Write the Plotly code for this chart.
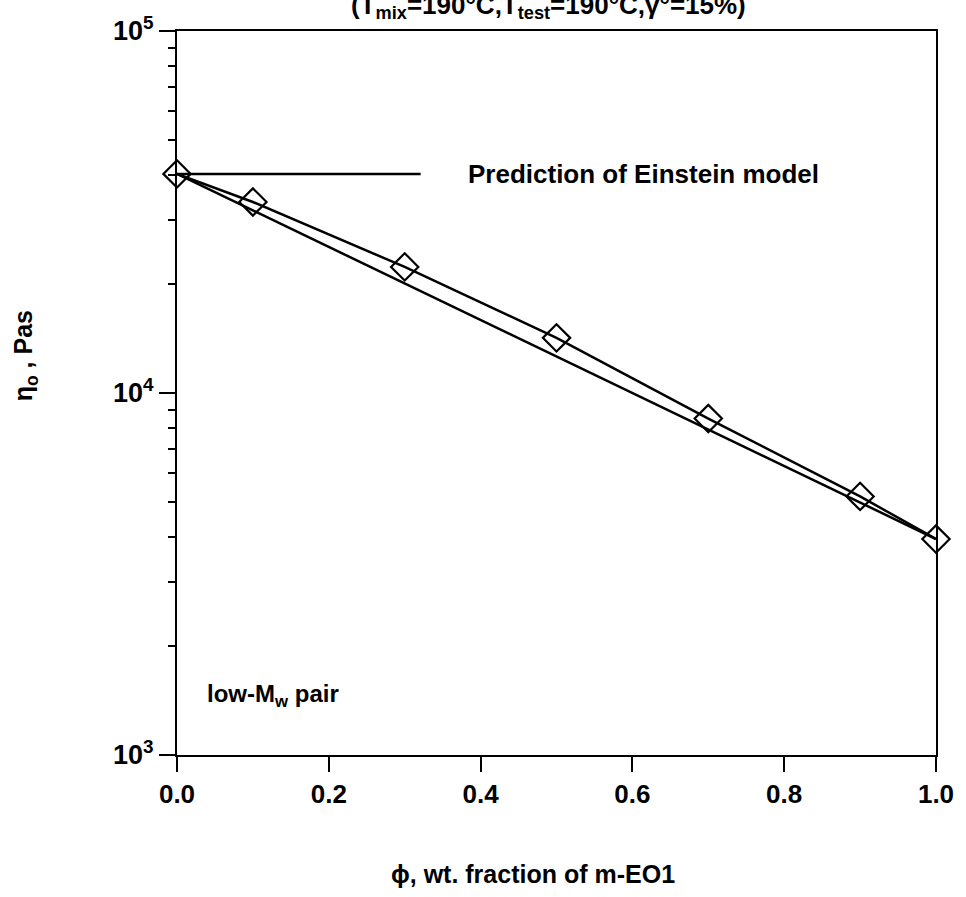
import math
import plotly.graph_objects as go

# data
phi = [0.0, 0.1, 0.3, 0.5, 0.7, 0.9, 1.0]
eta0 = [40300, 33700, 22300, 14200, 8500, 5180, 3950]
einstein_phi = [0.0, 1.0]
einstein_eta = [40300, 3950]
x_ticks = [0.0, 0.2, 0.4, 0.6, 0.8, 1.0]
x_ticktext = ["0.0", "0.2", "0.4", "0.6", "0.8", "1.0"]
y_ticks = [1e3, 1e4, 1e5]
y_ticktext = ["10<sup>3</sup>", "10<sup>4</sup>", "10<sup>5</sup>"]
y_minor = [2e3, 3e3, 4e3, 5e3, 6e3, 7e3, 8e3, 9e3, 2e4, 3e4, 4e4, 5e4, 6e4, 7e4, 8e4, 9e4]
label_end_phi = 0.321

FONT = "Liberation Sans, Arial, sans-serif"

fig = go.Figure()
fig.add_trace(go.Scatter(x=einstein_phi, y=einstein_eta, mode="lines",
                         line=dict(color="black", width=2.5), showlegend=False))
fig.add_trace(go.Scatter(x=phi, y=eta0, mode="lines+markers",
                         line=dict(color="black", width=2.5),
                         marker=dict(symbol="diamond-open", size=21, color="black",
                                     line=dict(width=2.2, color="black")),
                         showlegend=False, cliponaxis=False))

fig.add_shape(type="line", xref="x", yref="y", x0=phi[0], x1=label_end_phi,
              y0=eta0[0], y1=eta0[0], line=dict(color="black", width=2.5))

fig.add_annotation(x=0.381, y=math.log10(eta0[0]), xref="x", yref="y",
                   text="<b>Prediction of Einstein model</b>",
                   showarrow=False, xanchor="left", yanchor="middle",
                   font=dict(family=FONT, size=26, color="black"))
fig.add_annotation(x=0.037, y=3.165, xref="x", yref="y", text="<b>low-M<sub>w</sub> pair</b>",
                   showarrow=False, xanchor="left", yanchor="middle",
                   font=dict(family=FONT, size=24, color="black"))
fig.add_annotation(x=(550 - 177) / 763, y=1 + 25 / 725, xref="paper", yref="paper",
                   text="<b>(T<sub>mix</sub>=190°C,T<sub>test</sub>=190°C,γ°=15%)</b>",
                   showarrow=False, xanchor="center", yanchor="middle",
                   font=dict(family=FONT, size=26, color="black"))
# axis titles
fig.add_annotation(x=(535 - 177) / 763, y=-(874 - 755) / 725, xref="paper", yref="paper",
                   text="<b>ϕ, wt. fraction of m-EO1</b>",
                   showarrow=False, xanchor="center", yanchor="middle",
                   font=dict(family=FONT, size=25, color="black"))
fig.add_annotation(x=-(177 - 24) / 763, y=1 - (355 - 30) / 725, xref="paper", yref="paper",
                   text="<b>η<sub>o</sub> , Pas</b>", textangle=-90,
                   showarrow=False, xanchor="center", yanchor="middle",
                   font=dict(family=FONT, size=25, color="black"))

fig.update_layout(
    width=966, height=897,
    margin=dict(l=177, r=26, t=30, b=142),
    paper_bgcolor="white", plot_bgcolor="white",
    font=dict(family=FONT, color="black"),
    xaxis=dict(range=[0, 1.0], tickvals=x_ticks, ticktext=["<b>%s</b>" % t for t in x_ticktext],
               ticks="outside", ticklen=15, tickwidth=2, tickcolor="black",
               showline=True, linecolor="black", linewidth=2, mirror=True,
               showgrid=False, zeroline=False,
               tickfont=dict(family=FONT, size=26, color="black")),
    yaxis=dict(type="log", range=[3, 5], tickvals=y_ticks,
               ticktext=["<b>%s</b>" % t for t in y_ticktext],
               ticks="outside", ticklen=16, tickwidth=2, tickcolor="black",
               minor=dict(tickvals=y_minor, ticks="outside", ticklen=7, tickwidth=2, tickcolor="black"),
               showline=True, linecolor="black", linewidth=2, mirror=True,
               showgrid=False, zeroline=False,
               tickfont=dict(family=FONT, size=27, color="black")),
)

fig.write_html("out.html")
